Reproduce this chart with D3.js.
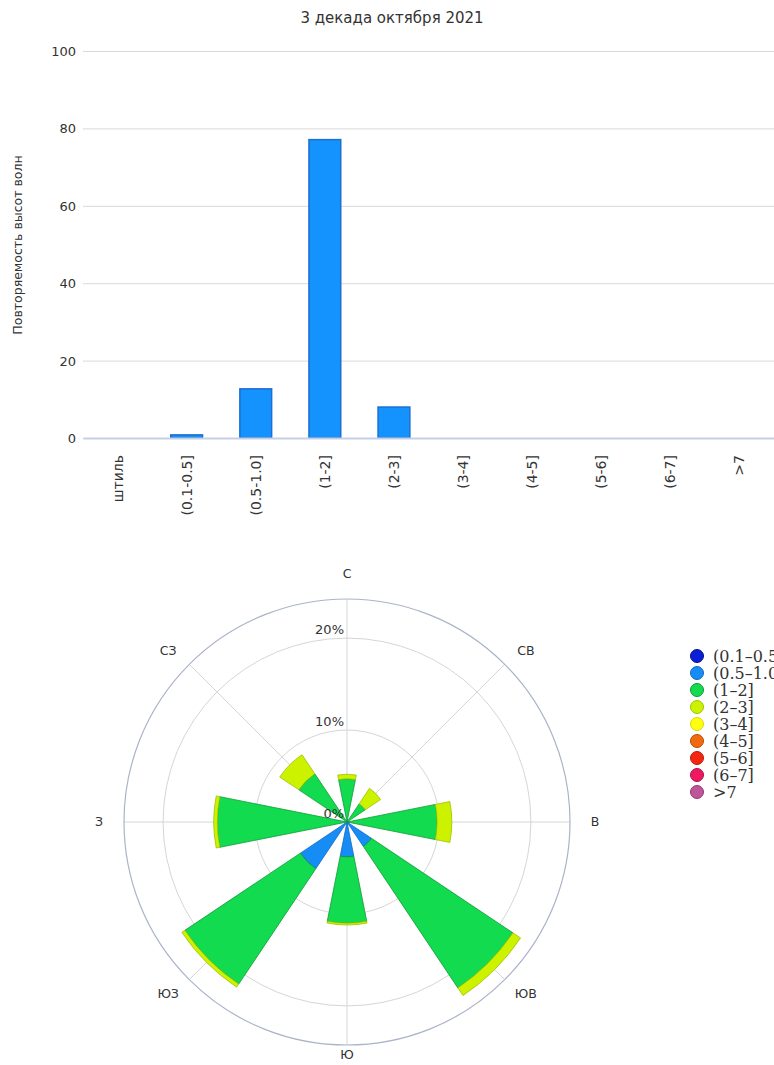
<!DOCTYPE html>
<html>
<head>
<meta charset="utf-8">
<script src="https://cdn.jsdelivr.net/npm/d3@7"></script>
<style>
    body { margin: 0; background: #fff; overflow: hidden; }
    svg { display: block; }
    text { font-family: "DejaVu Sans", Verdana, sans-serif; fill: #333; }
</style>
</head>
<body>
<div id="chart"></div>
<script>
// bar chart: wave height frequency
const heightCategories = ['штиль', '(0.1-0.5]', '(0.5-1.0]', '(1-2]', '(2-3]', '(3-4]', '(4-5]', '(5-6]', '(6-7]', '>7'];
const heightValues = [0, 0.8, 12.7, 77.1, 8.0, 0, 0, 0, 0, 0];
const yTicks = [0, 20, 40, 60, 80, 100];

// wave rose: share of each height class by direction (%)
const directions = ['С', 'СВ', 'В', 'ЮВ', 'Ю', 'ЮЗ', 'З', 'СЗ'];
const roseClasses = ['(0.1–0.5]', '(0.5–1.0]', '(1–2]', '(2–3]', '(3–4]', '(4–5]', '(5–6]', '(6–7]', '>7'];
const rose01to05 = [0, 0, 0, 0, 0, 0, 0, 0];
const rose05to10 = [0, 0, 0, 3.2, 3.8, 6.1, 0, 0];
const rose1to2 = [4.7, 2.4, 9.8, 18.5, 7.2, 15.1, 14.1, 6.3];
const rose2to3 = [0.5, 2.0, 1.6, 1.0, 0.2, 0.4, 0.4, 2.5];
const rose3to4 = [0, 0, 0, 0, 0, 0, 0, 0];
const rose4to5 = [0, 0, 0, 0, 0, 0, 0, 0];
const rose5to6 = [0, 0, 0, 0, 0, 0, 0, 0];
const rose6to7 = [0, 0, 0, 0, 0, 0, 0, 0];
const roseOver7 = [0, 0, 0, 0, 0, 0, 0, 0];
const radialTicks = [0, 10, 20];

const roseSeries = [rose01to05, rose05to10, rose1to2, rose2to3, rose3to4, rose4to5, rose5to6, rose6to7, roseOver7];
const classFill = ['#0a1fd6', '#168cf5', '#12db4f', '#ccf200', '#ffff10', '#f26a0f', '#f5260f', '#f01860', '#c0559a'];
const classStroke = ['#0a128a', '#1466c8', '#0c9a36', '#9fc200', '#d8d800', '#b84a08', '#b81a08', '#b01048', '#8c3c70'];

const width = 774, height = 1065;
const svg = d3.select('#chart').append('svg')
    .attr('width', width)
    .attr('height', height);

// ---------- bar chart ----------
const plot = { left: 83, right: 774, top: 51, bottom: 438 };

svg.append('text')
    .attr('x', 392)
    .attr('y', 23)
    .attr('text-anchor', 'middle')
    .style('font-size', '15px')
    .text('3 декада октября 2021');

const x = d3.scaleBand()
    .domain(heightCategories)
    .range([plot.left, plot.right])
    .paddingInner(0)
    .paddingOuter(0);

const y = d3.scaleLinear()
    .domain([0, 100])
    .range([plot.bottom, plot.top]);

const yAxis = svg.append('g')
    .attr('transform', `translate(${plot.left},0)`)
    .call(d3.axisLeft(y).tickValues(yTicks).tickSize(-(plot.right - plot.left)).tickPadding(7));
yAxis.select('.domain').remove();
yAxis.selectAll('.tick line').attr('stroke', '#d9d9d9');
yAxis.selectAll('.tick text')
    .style('font-size', '13px')
    .attr('fill', '#333')
    .attr('dy', '0.35em');

svg.append('text')
    .attr('transform', `translate(22,245) rotate(-90)`)
    .attr('text-anchor', 'middle')
    .style('font-size', '12.5px')
    .text('Повторяемость высот волн');

const barW = x.bandwidth() * 0.46;
svg.append('g')
    .selectAll('rect')
    .data(heightCategories.map((c, i) => ({ c, v: heightValues[i] })).filter(d => d.v > 0))
    .enter()
    .append('rect')
    .attr('x', d => x(d.c) + (x.bandwidth() - barW) / 2)
    .attr('y', d => y(d.v))
    .attr('width', barW)
    .attr('height', d => y(0) - y(d.v))
    .attr('fill', '#1493ff')
    .attr('stroke', '#1b6fd0')
    .attr('stroke-width', 1.5);

const xAxis = svg.append('g')
    .attr('transform', `translate(0,${plot.bottom})`)
    .call(d3.axisBottom(x).tickSize(0).tickPadding(0));
xAxis.select('.domain').attr('stroke', '#c5cfe3').attr('stroke-width', 2);
xAxis.selectAll('.tick text')
    .attr('transform', 'translate(5,17) rotate(-90)')
    .attr('text-anchor', 'end')
    .attr('dy', 0)
    .attr('fill', '#333')
    .style('font-size', '14px');

// ---------- wave rose ----------
const cx = 347, cy = 822;
const outerR = 223;
const r = d3.scaleLinear().domain([0, 24.25]).range([0, outerR]);
const step = 2 * Math.PI / directions.length;
const half = Math.PI / 16;

const rose = svg.append('g').attr('transform', `translate(${cx},${cy})`);

rose.selectAll('.ring')
    .data(radialTicks.filter(t => t > 0))
    .enter()
    .append('circle')
    .attr('r', d => r(d))
    .attr('fill', 'none')
    .attr('stroke', '#d6d6d9')
    .attr('stroke-width', 1);

rose.selectAll('.spoke')
    .data(directions)
    .enter()
    .append('line')
    .attr('x1', 0).attr('y1', 0)
    .attr('x2', (d, i) => outerR * Math.sin(i * step))
    .attr('y2', (d, i) => -outerR * Math.cos(i * step))
    .attr('stroke', '#d6d6d9')
    .attr('stroke-width', 1);

rose.append('circle')
    .attr('r', outerR)
    .attr('fill', 'none')
    .attr('stroke', '#aab3c8')
    .attr('stroke-width', 1.2);

// stacked sectors, inner classes first
const arc = d3.arc();
const stacked = [];
directions.forEach((dir, i) => {
    let base = 0;
    roseSeries.forEach((s, k) => {
        if (s[i] > 0) {
            stacked.push({ i, k, r0: base, r1: base + s[i] });
        }
        base += s[i];
    });
});

rose.append('g')
    .selectAll('path')
    .data(stacked)
    .enter()
    .append('path')
    .attr('d', d => arc({
        innerRadius: r(d.r0),
        outerRadius: r(d.r1),
        startAngle: d.i * step - half,
        endAngle: d.i * step + half
    }))
    .attr('fill', d => classFill[d.k])
    .attr('stroke', d => classStroke[d.k])
    .attr('stroke-width', 0.8)
    .attr('stroke-linejoin', 'round');

rose.selectAll('.rlabel')
    .data(radialTicks)
    .enter()
    .append('text')
    .attr('x', -3)
    .attr('y', d => -r(d) - 4)
    .attr('text-anchor', 'end')
    .style('font-size', '13px')
    .text(d => d + '%');

// compass labels; the bottom one is pulled in so it stays on the page
const labelR = 248;
rose.selectAll('.dir')
    .data(directions)
    .enter()
    .append('text')
    .attr('x', (d, i) => labelR * Math.sin(i * step) * (i % 2 ? 1.02 : 1))
    .attr('y', (d, i) => i === 4 ? 233 : -labelR * Math.cos(i * step) * (i % 2 ? 0.98 : 1))
    .attr('text-anchor', 'middle')
    .attr('dy', '0.35em')
    .style('font-size', '12.5px')
    .text(d => d);

// legend
const legend = svg.append('g').attr('transform', 'translate(697,656)');
const item = legend.selectAll('g')
    .data(roseClasses)
    .enter()
    .append('g')
    .attr('transform', (d, i) => `translate(0,${i * 17})`);
item.append('circle')
    .attr('r', 6.5)
    .attr('fill', (d, i) => classFill[i])
    .attr('stroke', (d, i) => classStroke[i])
    .attr('stroke-width', 1);
item.append('text')
    .attr('x', 16)
    .attr('dy', '0.35em')
    .style('font-family', '"DejaVu Serif", serif')
    .style('font-size', '16px')
    .attr('fill', '#111')
    .text(d => d);
</script>
</body>
</html>
